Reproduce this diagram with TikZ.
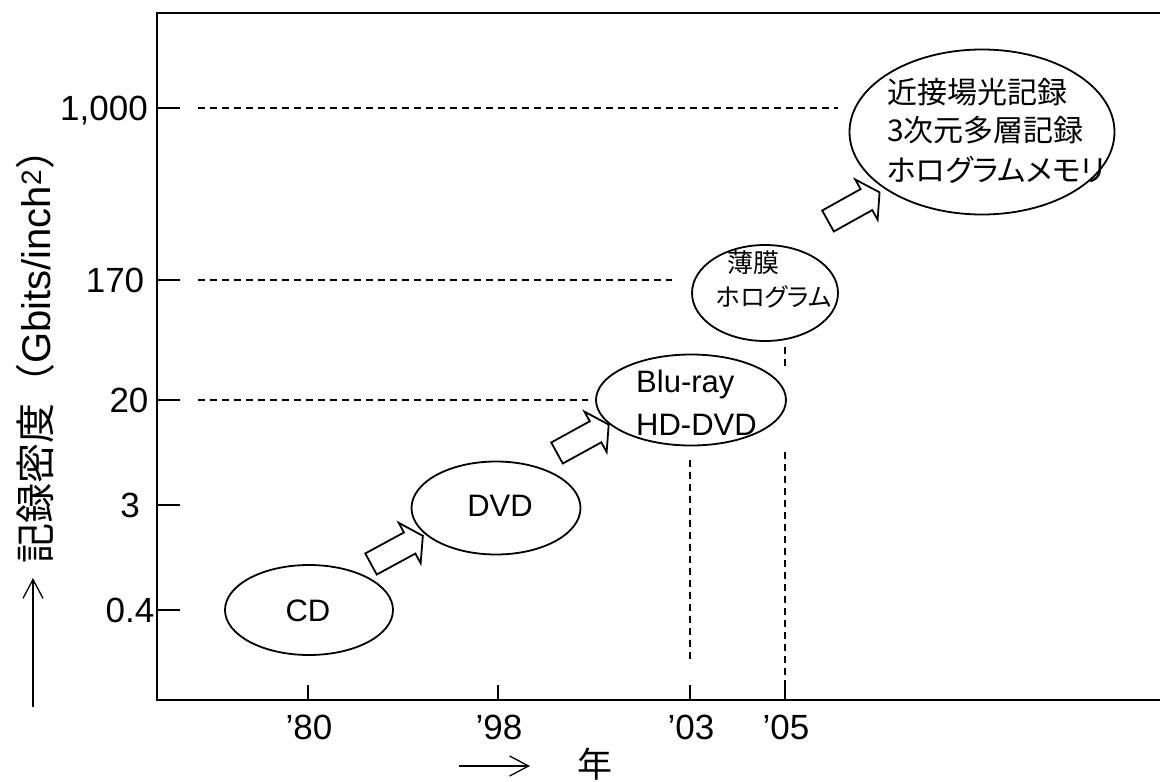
\documentclass[tikz,border=0pt]{standalone}
\usepackage{fontspec}
\setmainfont{Liberation Sans}
\newfontfamily\jp{Noto Sans CJK JP}
\newfontfamily\jpp{Noto Sans CJK JP}[RawFeature=+palt]
\usetikzlibrary{shapes.geometric,arrows.meta}
\begin{document}
\begin{tikzpicture}[x=1pt,y=-1pt,
  axis/.style={line width=2.6pt},
  tick/.style={line width=2.6pt},
  guide/.style={line width=1.3pt, dash pattern=on 7pt off 5pt},
  oval/.style={draw, ellipse, line width=1.8pt, fill=white, inner sep=0pt},
  lat/.style={inner sep=0pt, text height=25pt, text depth=0pt, font=\fontsize{35}{40}\selectfont},
  inlat/.style={inner sep=0pt, text height=22pt, text depth=0pt, font=\fontsize{31}{36}\selectfont},
  jbig/.style={inner sep=0pt, text height=26.4pt, text depth=3.6pt, font=\fontsize{30}{34}\selectfont\jp},
  jbigp/.style={inner sep=0pt, text height=26.4pt, text depth=3.6pt, font=\fontsize{30}{34}\selectfont\jpp},
  jmid/.style={inner sep=0pt, text height=22.9pt, text depth=3.1pt, font=\fontsize{26}{30}\selectfont\jp},
  jmidp/.style={inner sep=0pt, text height=22pt, text depth=3pt, font=\fontsize{25}{30}\selectfont\jpp},
  thinarrow/.style={line width=1.3pt, -{Straight Barb[length=19pt,width=20pt]}},
  blockarrow/.pic={\draw[line width=1.8pt, fill=white, line join=miter]
     (0,-12) -- (44,-12) -- (44,-23) -- (59,0) -- (44,23) -- (44,12) -- (0,12) -- cycle;}
]
\useasboundingbox (0,0) rectangle (1160,782);

% frame
\coordinate (tr) at (1160,13);
\coordinate (tl) at (157,13);
\coordinate (bl) at (157,700);
\coordinate (br) at (1160,700);
\draw[axis] (tr) -- (tl) -- (bl) -- (br);

% y ticks and labels
\foreach \yy/\lab/\cx [count=\i] in {108/{1,000}/104, 280/170/115, 400/20/129, 505/3/130, 610/0.4/130}{
  \draw[tick] (157,\yy) -- (180,\yy);
  \node[lat] (ylab\i) at (\cx,\yy) {\lab};
}
% x ticks and labels
\foreach \xx/\lab [count=\i] in {308/'80, 498/'98, 690/'03, 785/'05}{
  \draw[tick] (\xx,700) -- (\xx,685);
  \node[lat] (xlab\i) at (\xx+1,727) {\lab};
}

% guide lines
\draw[guide] (198,108) -- (838,108);
\draw[guide] (198,280) -- (672,280);
\draw[guide] (198,400) -- (588,400);
\draw[guide] (690,460) -- (690,660);
\draw[guide] (785,347) -- (785,369);
\draw[guide] (785,452) -- (785,700);

% ellipses
\node[oval, minimum width=168pt, minimum height=90pt] (cd) at (309,610) {};
\node[oval, minimum width=169pt, minimum height=93pt] (dvd) at (496,508) {};
\node[oval, minimum width=190pt, minimum height=91pt] (blu) at (691,400) {};
\node[oval, minimum width=146pt, minimum height=96pt] (thin) at (765,293) {};
\node[oval, minimum width=265pt, minimum height=165pt] (future) at (982,132) {};

% ellipse texts
\node[inlat] (tcd) at (308,610) {CD};
\node[inlat] (tdvd) at (500,505) {DVD};
\node[inlat, anchor=west] (tblu) at (636,381) {Blu-ray};
\node[inlat, anchor=west] (thd) at (636,424) {HD-DVD};
\node[jmid, anchor=west] (tthin) at (727,263) {薄膜};
\node[jmidp, anchor=west] (tholo) at (716,297) {ホログラム};
\node[jbig, anchor=west] (tf1) at (887,92) {近接場光記録};
\node[jbig, anchor=west] (tf2) at (887,130) {3次元多層記録};
\node[jbigp, anchor=west] (tf3) at (887,170) {ホログラムメモリ};

% block arrows
\coordinate (a1) at (371,564);
\coordinate (a2) at (557,453);
\coordinate (a3) at (828,221);
\pic[rotate=28.5] at (a1) {blockarrow};
\pic[rotate=28.8] at (a2) {blockarrow};
\pic[rotate=29.1] at (a3) {blockarrow};

% axis titles
\coordinate (ya0) at (33,707);
\coordinate (ya1) at (33,578);
\draw[thinarrow] (ya0) -- (ya1);
\node[inner sep=0pt, text height=35.2pt, text depth=4.8pt, anchor=west, rotate=90,
  font=\fontsize{40}{44}\selectfont] (ytitle) at (35,564)
  {{\jp 記録密度（}Gbits/inch\textsuperscript{2}{\jp ）}};
\coordinate (xa0) at (459,766);
\coordinate (xa1) at (530,766);
\draw[thinarrow] (xa0) -- (xa1);
\node[inner sep=0pt, text height=30.8pt, text depth=4.2pt, font=\fontsize{35}{40}\selectfont\jp] (xtitle) at (595,764) {年};
\end{tikzpicture}
\end{document}
